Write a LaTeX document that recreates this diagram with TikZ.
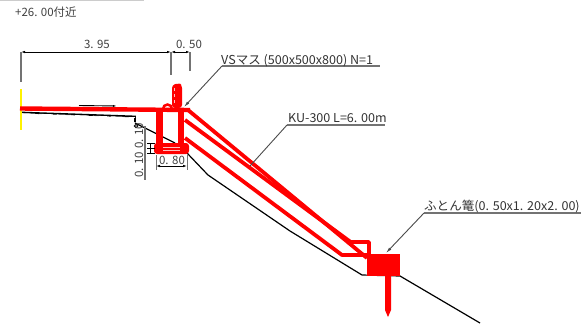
\documentclass[tikz,border=0pt]{standalone}
\usepackage{fontspec}
\setmainfont{Noto Sans CJK JP}
\newfontfamily\narrowf[FakeStretch=1.02]{Noto Sans CJK JP}
\usetikzlibrary{arrows.meta}
\tikzset{
  redband/.style={draw=red,line width=3.8pt,line join=round},
  ground/.style={draw=black,line width=1.2pt},
  dimline/.style={draw=black,line width=.9pt,{Latex[length=4pt,width=2.5pt]}-{Latex[length=4pt,width=2.5pt]}},
  greyline/.style={draw=black!55,line width=1.2pt},
  leader/.style={draw=black!70,line width=.9pt,-{Latex[length=6pt,width=3pt]}},
  lab/.style={font=\narrowf\fontsize{12.3}{13}\selectfont,text=black!80,inner sep=0pt,anchor=base west},
  dimt/.style={font=\fontsize{11.5}{12}\selectfont,text=black!75,inner sep=0pt},
}
\begin{document}
\begin{tikzpicture}[x=1pt,y=-1pt]
\useasboundingbox (0,0) rectangle (582,325);
\fill[white] (0,0) rectangle (582,325);
\draw[black!20,line width=1.5pt] (0,0.5) -- (144,0.5);
\node[dimt,anchor=west] (title) at (15,12) {+26. 00付近};
% ground
\draw[ground] (135,123) -- (175,143) (187,153) -- (208,175) -- (290,231) -- (362,275) -- (400,276) -- (480,323);
\draw[ground,line width=1.8pt] (21,112.5) -- (135,116.5) -- (135,122);
\draw[white,line width=.8pt,dash pattern=on 14pt off 4pt] (21,113.6) -- (135,117.6);
\draw[black,line width=.8pt] (136,126) circle (1.8pt);
% extents
\draw[greyline] (21,52) -- (21,82);
\draw[yellow,line width=1.4pt] (21,89) -- (21,130);
\draw[greyline] (171,52) -- (171,75) (190,52) -- (190,71);
\coordinate (d1) at (21,52);\coordinate (d2) at (171,52);\coordinate (d3) at (190,52);
\draw[dimline] (d1) -- (d2);
\draw[dimline] (d2) -- (d3);
\node[dimt] (l395) at (97,44) {3. 95};
\node[dimt] (l050) at (189,44) {0. 50};
% small arrow on the ground
\draw[black,line width=.9pt,-{Latex[length=5pt,width=2pt]}] (79,105.5) -- (118,106);
% anchors
\draw[redband] (188,110) -- (367,258);
\draw[redband] (185,120) -- (352,243);
\draw[redband] (185,138) -- (342,255) -- (369,255) -- (369,242) -- (350,242);
% ground beam
\draw[red,line width=4.4pt] (20,108.5) -- (190,110);
\draw[red,line width=7pt] (159.5,110) -- (159.5,147);
\draw[red,line width=6pt] (181,110) -- (181,147);
\fill[red,rounded corners=3pt] (154,143) rectangle (189,154);
\draw[red!25,line width=.5pt] (163,147) -- (180,147) (163,150) -- (180,150);
% top of the box
\fill[red,rounded corners=3pt] (172,108) -- (172,85) -- (179,83) -- (182,85) -- (182,108) -- cycle;
\draw[red!25,line width=.5pt,dashed] (174,88) -- (174,104);
\draw[red,line width=2.5pt] (163,109) arc[start angle=180,end angle=0,radius=4.5pt];
% 0.80
\draw[greyline,line width=.9pt] (156,155) -- (156,170) (187,155) -- (187,170);
\draw[dimline,line width=.7pt] (156,166) -- (187,166);
\node[dimt] (l080) at (172,160.5) {0. 80};
% 0.10
\draw[greyline] (145,126) -- (145,180);
\draw[black,line width=.9pt] (147,143) -- (155,143) (147,148) -- (155,148) (147,153) -- (155,153) (150,143) -- (150,153);
\node[dimt,rotate=90] (l010a) at (139,165) {0. 10};
\node[dimt,rotate=90] (l010b) at (139,136) {0. 10};
% pad and pile
\fill[red] (367,254) rectangle (400,276);
\fill[red] (385,276) -- (391,276) -- (391,310) -- (388,317) -- (385,310) -- cycle;
% leaders
\coordinate (vsa) at (222,66);\coordinate (vsb) at (380,66);\coordinate (vst) at (184,107);
\draw[greyline] (vsa) -- (vsb);
\draw[leader] (vsa) -- (vst);
\coordinate (kua) at (287,125);\coordinate (kub) at (385,125);\coordinate (kut) at (250,166);
\draw[greyline] (kua) -- (kub);
\draw[draw=black!70,line width=.9pt] (kua) -- (kut);
\coordinate (fua) at (424,213);\coordinate (fub) at (581,213);\coordinate (fut) at (386,253);
\draw[greyline] (fua) -- (fub);
\draw[leader] (fua) -- (fut);
\node[lab] (vs) at (221,64) {VSマス (500x500x800) N=1};
\node[lab] (ku) at (288,122.5) {KU-300 L=6. 00m};
\node[lab] (fu) at (424,210.5) {ふとん篭(0. 50x1. 20x2. 00)};
\end{tikzpicture}
\end{document}
